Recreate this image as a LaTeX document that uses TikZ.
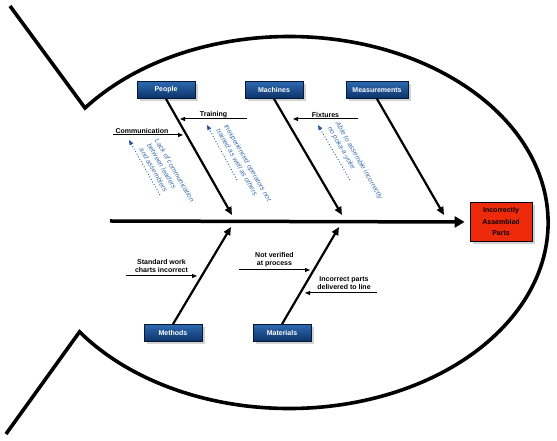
\documentclass[tikz,border=0pt]{standalone}
\usepackage{fontspec}
\setmainfont{Liberation Sans}
\usetikzlibrary{shapes,arrows,arrows.meta,positioning,calc,shadows}
\definecolor{causetop}{RGB}{45,105,175}
\definecolor{causebottom}{RGB}{12,50,105}
\definecolor{causeborder}{RGB}{5,25,55}
\definecolor{effectred}{RGB}{238,42,12}
\definecolor{noteblue}{RGB}{62,112,172}
\definecolor{dotblue}{RGB}{35,85,155}
\tikzset{
    % Define box styles
    causebox/.style={
        rectangle, draw=causeborder, line width=0.8pt,
        top color=causetop, bottom color=causebottom,
        text=white, font=\bfseries\fontsize{7}{8}\selectfont,
        minimum width=58pt, minimum height=17pt, inner sep=1pt,
        drop shadow={shadow xshift=3pt, shadow yshift=-3pt, opacity=.35}
    },
    effectbox/.style={
        rectangle, draw=black, line width=0.8pt, fill=effectred,
        text=black, font=\bfseries\fontsize{7}{11.5}\selectfont,
        minimum width=62pt, minimum height=39pt, align=center,
        drop shadow={shadow xshift=3pt, shadow yshift=-3pt, opacity=.35}
    },
    % Define line styles
    outline/.style={line width=3.6pt, black},
    spine/.style={line width=3.5pt, -{Triangle[length=10pt,width=11pt]}},
    bone/.style={line width=2.2pt, -{Triangle[length=8pt,width=7pt]}},
    subarrow/.style={line width=1pt, -{Triangle[length=5pt,width=4pt]}},
    sublabel/.style={
        font=\bfseries\fontsize{7}{8}\selectfont, align=center,
        inner sep=1pt
    },
    notetext/.style={
        rotate=-60, align=left, inner sep=0pt, text=noteblue,
        font=\itshape\fontsize{7}{9}\selectfont
    },
    notearrow/.style={
        dotted, line width=0.9pt, dotblue,
        -{Triangle[length=5pt,width=4pt]}
    }
}

\begin{document}
\begin{tikzpicture}[x=1pt, y=1pt]
\useasboundingbox (0,0) rectangle (557,441);

% fish outline
\draw[outline] (10,435) -- (85,333)
    arc[start angle=142, end angle=-144, x radius=259, y radius=186]
    -- (6,7);

% head and spine
\node[effectbox] (effect) at (501,219) {Incorrectly\\Assembled\\Parts};
\coordinate (tail) at (110,220);
\draw[spine] (tail) -- ([xshift=-5pt]effect.west);

% categories
\node[causebox] (people) at (166,351) {People};
\node[causebox] (machines) at (274,351) {Machines};
\node[causebox, minimum width=62pt] (measurements) at (377,351) {Measurements};
\node[causebox] (methods) at (173,108) {Methods};
\node[causebox] (materials) at (282,108) {Materials};

\coordinate (peopleTip) at (232,226);
\coordinate (machinesTip) at (342,226);
\coordinate (measurementsTip) at (444,226);
\coordinate (methodsTip) at (231,214);
\coordinate (materialsTip) at (339,214);

\draw[bone] (people.south) -- (peopleTip);
\draw[bone] (machines.south) -- (machinesTip);
\draw[bone] (measurements.south) -- (measurementsTip);
\draw[bone] (methods.north) -- (methodsTip);
\draw[bone] (materials.north) -- (materialsTip);

% causes
\coordinate (trainA) at (247,322);  \coordinate (trainB) at (180,322);
\coordinate (commA) at (113,306);   \coordinate (commB) at (183,306);
\coordinate (fixA) at (358,322);    \coordinate (fixB) at (293,322);
\coordinate (stdA) at (126,165);    \coordinate (stdB) at (197,165);
\coordinate (verA) at (239,171);    \coordinate (verB) at (310,171);
\coordinate (partA) at (377,148);   \coordinate (partB) at (305,148);

\draw[subarrow] (trainA) -- node[sublabel, above] (training) {Training} (trainB);
\draw[subarrow] (commA) -- node[sublabel, above, xshift=-6pt] (communication) {Communication} (commB);
\draw[subarrow] (fixA) -- node[sublabel, above] (fixtures) {Fixtures} (fixB);
\draw[subarrow] (stdA) -- node[sublabel, above=2pt] (standard) {Standard work\\charts incorrect} (stdB);
\draw[subarrow] (verA) -- node[sublabel, above=2pt] (verified) {Not verified\\at process} (verB);
\draw[subarrow] (partA) -- node[sublabel, above=2pt, xshift=3pt] (parts) {Incorrect parts\\delivered to line} (partB);

% notes along the bones
\node[notetext] (lackNote) at (167,266) {Lack of communication\\between leaders\\and assemblers};
\node[notetext] (inexpNote) at (244,276) {Inexperienced operators not\\trained as well as others};
\node[notetext] (ableNote) at (355,278) {Able to assemble incorrectly\\no poka-a-yoke};

\coordinate (lackA) at (160,246);   \coordinate (lackB) at (129,301);
\coordinate (inexpA) at (237,261);  \coordinate (inexpB) at (207,316);
\coordinate (ableA) at (350,261);   \coordinate (ableB) at (318,316);

\draw[notearrow] (lackA) -- (lackB);
\draw[notearrow] (inexpA) -- (inexpB);
\draw[notearrow] (ableA) -- (ableB);

\end{tikzpicture}
\end{document}
